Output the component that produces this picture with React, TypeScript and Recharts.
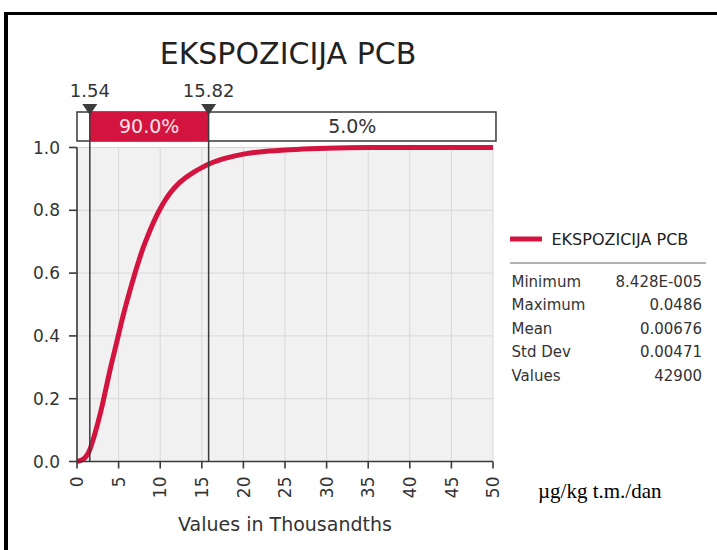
import React from 'react';
import {
  LineChart,
  Line,
  XAxis,
  YAxis,
  CartesianGrid,
  ReferenceLine,
  ReferenceArea,
  ReferenceDot,
} from 'recharts';

// ---- data (x in thousandths, cumulative probability) ----
const xValues = [0, 0.5, 1, 1.5, 2, 2.5, 3, 3.5, 4, 4.5, 5, 5.5, 6, 6.5, 7, 7.5, 8, 8.5, 9, 9.5, 10, 10.5, 11, 11.5, 12, 13, 14, 15, 16, 17, 18, 20, 22, 25, 28, 30, 35, 40, 45, 50];
const cumProb = [0, 0.004, 0.013, 0.035, 0.075, 0.122, 0.175, 0.235, 0.295, 0.35, 0.405, 0.46, 0.51, 0.557, 0.603, 0.645, 0.684, 0.718, 0.75, 0.779, 0.805, 0.828, 0.848, 0.865, 0.88, 0.903, 0.921, 0.936, 0.949, 0.959, 0.967, 0.979, 0.986, 0.992, 0.996, 0.998, 1, 1, 1, 1];

const xTicks = [0, 5, 10, 15, 20, 25, 30, 35, 40, 45, 50];
const yTicks = [0, 0.2, 0.4, 0.6, 0.8, 1.0];

const leftMark = 1.54;
const rightMark = 15.82;
const markLabels = ['1.54', '15.82'];
const bandLabels = ['90.0%', '5.0%'];

const seriesName = 'EKSPOZICIJA PCB';
const statLabels = ['Minimum', 'Maximum', 'Mean', 'Std Dev', 'Values'];
const statValues = ['8.428E-005', '0.0486', '0.00676', '0.00471', '42900'];

const title = 'EKSPOZICIJA PCB';
const xAxisTitle = 'Values in Thousandths';
const unitText = 'µg/kg t.m./dan';

const data = xValues.map((x, i) => ({ x, y: cumProb[i] }));

// ---- style ----
const FONT = "'DejaVu Sans', Verdana, sans-serif";
const RED = '#d3143e';
const DARK = '#3a3a3a';

// layout constants for the band above the plot (in value units of y axis)
const BAND_LO = 1.021;
const BAND_HI = 1.113;
const BAND_RIGHT = 50.36;
const MARK_Y = 1.121;

const XTick = (props: any) => {
  const { x, y, payload } = props;
  return (
    <text
      x={x}
      y={y}
      transform={`rotate(-90 ${x} ${y})`}
      textAnchor="end"
      dy="0.36em"
      fontSize={17}
      fill="#333"
      fontFamily={FONT}
    >
      {payload.value}
    </text>
  );
};

const Marker = (label: string) => (props: any) => {
  const { cx, cy } = props;
  return (
    <g>
      <polygon
        points={`${cx - 7.5},${cy - 5.5} ${cx + 7.5},${cy - 5.5} ${cx},${cy + 5.5}`}
        fill="#3c3c3c"
      />
      <text x={cx} y={cy - 13} textAnchor="middle" fontSize={18} fill="#333" fontFamily={FONT}>
        {label}
      </text>
    </g>
  );
};

export default function App() {
  return (
    <div style={{ position: 'absolute', left: 0, top: 0, width: 717, height: 550, background: '#fff', overflow: 'hidden' }}>
      <LineChart
        width={717}
        height={550}
        data={data}
        margin={{ top: 147.5, right: 224, bottom: 48.5, left: 37 }}
      >
        <CartesianGrid fill="#f1f1f1" stroke="#d8d8d8" strokeWidth={1} />
        <XAxis
          dataKey="x"
          type="number"
          domain={[0, 50]}
          ticks={xTicks}
          height={40}
          tickSize={7}
          tickMargin={8}
          tick={<XTick />}
          axisLine={{ stroke: DARK, strokeWidth: 1.6 }}
          tickLine={{ stroke: DARK, strokeWidth: 1.6 }}
          interval={0}
        />
        <YAxis
          type="number"
          domain={[0, 1]}
          ticks={yTicks}
          width={40}
          tickSize={8}
          tickMargin={9}
          tickFormatter={(v: number) => v.toFixed(1)}
          tick={{ fontSize: 17, fill: '#333', fontFamily: FONT }}
          axisLine={{ stroke: DARK, strokeWidth: 1.6 }}
          tickLine={{ stroke: DARK, strokeWidth: 1.6 }}
          interval={0}
        />
        <ReferenceArea
          x1={0}
          x2={BAND_RIGHT}
          y1={BAND_LO}
          y2={BAND_HI}
          ifOverflow="visible"
          fill="#ffffff"
          fillOpacity={1}
          stroke={DARK}
          strokeWidth={1.5}
        />
        <ReferenceArea
          x1={leftMark}
          x2={rightMark}
          y1={BAND_LO}
          y2={BAND_HI}
          ifOverflow="visible"
          fill={RED}
          fillOpacity={1}
          stroke="none"
          label={{ value: bandLabels[0], position: 'center', fill: '#fbe3e8', fontSize: 19, fontFamily: FONT }}
        />
        <ReferenceArea
          x1={rightMark}
          x2={BAND_RIGHT}
          y1={BAND_LO}
          y2={BAND_HI}
          ifOverflow="visible"
          fill="none"
          fillOpacity={0}
          stroke="none"
          label={{ value: bandLabels[1], position: 'center', fill: '#333', fontSize: 19, fontFamily: FONT }}
        />
        <Line
          type="monotone"
          dataKey="y"
          stroke={RED}
          strokeWidth={5}
          dot={false}
          isAnimationActive={false}
        />
        <ReferenceLine
          segment={[{ x: leftMark, y: 0 }, { x: leftMark, y: BAND_HI }]}
          ifOverflow="visible"
          stroke={DARK}
          strokeWidth={1.5}
        />
        <ReferenceLine
          segment={[{ x: rightMark, y: 0 }, { x: rightMark, y: BAND_HI }]}
          ifOverflow="visible"
          stroke={DARK}
          strokeWidth={1.5}
        />
        <ReferenceDot x={leftMark} y={MARK_Y} ifOverflow="visible" shape={Marker(markLabels[0])} />
        <ReferenceDot x={rightMark} y={MARK_Y} ifOverflow="visible" shape={Marker(markLabels[1])} />
      </LineChart>

      <svg
        width={717}
        height={550}
        style={{ position: 'absolute', left: 0, top: 0, pointerEvents: 'none' }}
      >
        {/* frame */}
        <rect x={4} y={12} width={713} height={3} fill="#000" />
        <rect x={4} y={12} width={4} height={538} fill="#000" />

        <text x={288} y={63.5} textAnchor="middle" fontSize={30} fill="#222" fontFamily={FONT}>
          {title}
        </text>
        <text x={285} y={531} textAnchor="middle" fontSize={19} fill="#333" fontFamily={FONT}>
          {xAxisTitle}
        </text>
        <text x={538} y={498} textAnchor="start" fontSize={21} fill="#000" fontFamily="'Liberation Serif', 'Times New Roman', serif">
          {unitText}
        </text>

        {/* legend */}
        <line x1={510} x2={542} y1={239} y2={239} stroke={RED} strokeWidth={5} />
        <text x={551.5} y={245} fontSize={16} fill="#222" fontFamily={FONT}>
          {seriesName}
        </text>
        <line x1={510} x2={706} y1={263} y2={263} stroke="#9a9a9a" strokeWidth={1.5} />
        {statLabels.map((s, i) => (
          <text key={s} x={511.5} y={287 + i * 23.4} fontSize={15} fill="#333" fontFamily={FONT}>
            {s}
          </text>
        ))}
        {statValues.map((s, i) => (
          <text key={s} x={702} y={287 + i * 23.4} textAnchor="end" fontSize={15} fill="#333" fontFamily={FONT}>
            {s}
          </text>
        ))}
      </svg>
    </div>
  );
}
